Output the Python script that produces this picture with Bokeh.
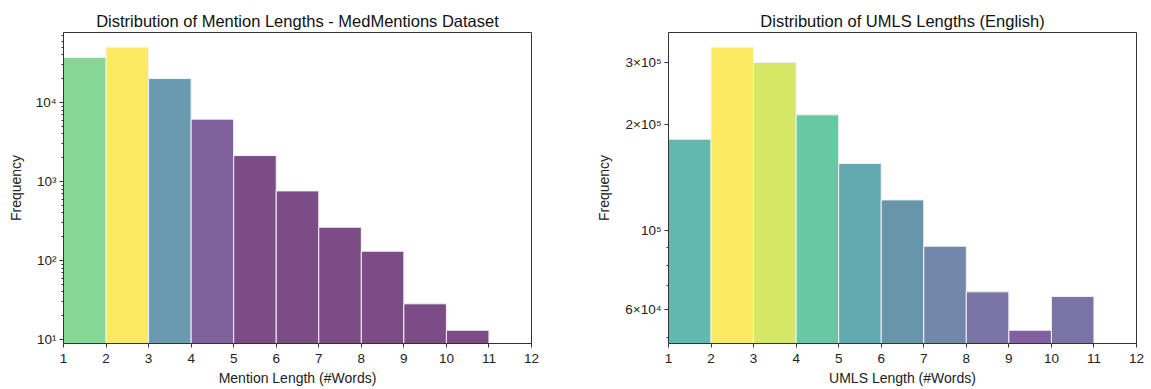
from bokeh.plotting import figure
from bokeh.layouts import row
from bokeh.models import ColumnDataSource, FixedTicker, Range1d
from bokeh.embed import file_html
from bokeh.resources import INLINE

# ---- data ----
bin_edges = [1, 2, 3, 4, 5, 6, 7, 8, 9, 10, 11]
mention_counts = [37100, 50100, 20100, 6150, 2130, 760, 264, 131, 28.3, 13.1]
umls_counts = [181900, 331500, 300000, 213200, 155300, 122400, 90500, 67200, 52300, 65200]

x_ticks = [1, 2, 3, 4, 5, 6, 7, 8, 9, 10, 11, 12]

mention_y_ticks = [10, 100, 1000, 10000]
mention_y_labels = ["10\u00b9", "10\u00b2", "10\u00b3", "10\u2074"]
umls_y_ticks = [60000, 100000, 200000, 300000]
umls_y_labels = ["6\u00d710\u2074", "10\u2075", "2\u00d710\u2075", "3\u00d710\u2075"]

# colours (viridis-like, blended with white)
mention_colors = ["#86d694", "#fdea63", "#6a9aaf", "#7f629d", "#7c4c86",
                  "#7c4c86", "#7c4c86", "#7c4c86", "#7c4c86", "#7c4c86"]
umls_colors = ["#62b8ae", "#fdea63", "#d4e866", "#68c8a3", "#63aab0",
               "#6796ab", "#7188ab", "#7b74a6", "#8060a0", "#7a73a6"]

FONT = "Liberation Sans"
TXT = "#222222"


def minor_log(lo, hi):
    out = []
    d = 1
    while d <= hi:
        for m in range(2, 10):
            v = m * d
            if lo <= v <= hi:
                out.append(v)
        d *= 10
    return out


def make_plot(title, xlabel, counts, colors, y_lo, y_hi, yticks, ylabels,
              yminor, bottom_val, width, border_left, border_right, label_standoff):
    src = ColumnDataSource(dict(
        left=bin_edges[:-1], right=bin_edges[1:], top=counts,
        bottom=[bottom_val] * len(counts), color=colors))
    p = figure(width=width, height=388, y_axis_type="log",
               x_range=Range1d(1, 12), y_range=Range1d(y_lo, y_hi),
               output_backend="svg", toolbar_location=None,
               min_border_left=border_left, min_border_right=border_right,
               min_border_top=32, min_border_bottom=45,
               title=title)
    p.quad(left="left", right="right", top="top", bottom="bottom", source=src,
           fill_color="color", fill_alpha=1.0, line_color="#f2f2f2", line_width=1)
    p.title.text_font = FONT
    p.title.text_font_size = "16.5px"
    p.title.text_font_style = "normal"
    p.title.text_color = "#111111"
    p.title.align = "center"
    p.title.standoff = 6
    p.grid.visible = False
    p.outline_line_color = "#333333"
    p.outline_line_width = 1
    p.background_fill_color = "white"
    p.border_fill_color = "white"

    p.xaxis.ticker = FixedTicker(ticks=x_ticks)
    p.yaxis.ticker = FixedTicker(ticks=yticks, minor_ticks=yminor)
    p.yaxis.major_label_overrides = {t: l for t, l in zip(yticks, ylabels)}

    for ax in (p.xaxis[0], p.yaxis[0]):
        ax.axis_line_color = "#333333"
        ax.major_tick_line_color = "#333333"
        ax.minor_tick_line_color = "#333333"
        ax.major_tick_out = 4
        ax.major_tick_in = 0
        ax.minor_tick_out = 2
        ax.minor_tick_in = 0
        ax.major_label_text_font = FONT
        ax.major_label_text_font_size = "13.5px"
        ax.major_label_text_color = TXT
        ax.axis_label_text_font = FONT
        ax.axis_label_text_font_size = "14px"
        ax.axis_label_text_font_style = "normal"
        ax.axis_label_text_color = TXT
    p.xaxis.major_label_standoff = 6
    p.yaxis.major_label_standoff = 3
    p.xaxis.axis_label = xlabel
    p.xaxis.axis_label_standoff = 4
    p.yaxis.axis_label = "Frequency"
    p.yaxis.axis_label_standoff = label_standoff
    return p


p1 = make_plot("Distribution of Mention Lengths - MedMentions Dataset",
               "Mention Length (#Words)", mention_counts, mention_colors,
               8.9, 76900, mention_y_ticks, mention_y_labels,
               minor_log(9.5, 76900), 1, 591, 63, 60, 9)
p2 = make_plot("Distribution of UMLS Lengths (English)",
               "UMLS Length (#Words)", umls_counts, umls_colors,
               47970, 364900, umls_y_ticks, umls_y_labels,
               [50000, 70000, 80000, 90000], 10000, 555, 77, 10, 10)

layout = row(p1, p2)
open("out.html", "w").write(file_html(layout, INLINE))
